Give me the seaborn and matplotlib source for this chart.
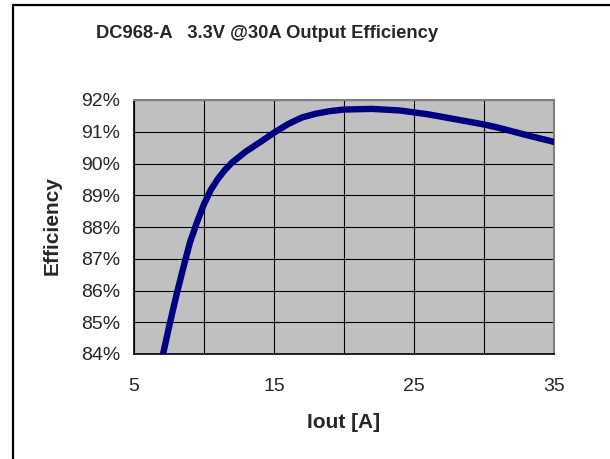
import matplotlib
matplotlib.use("Agg")
import matplotlib.pyplot as plt
from matplotlib.lines import Line2D
from matplotlib.ticker import FixedLocator, FuncFormatter
import seaborn as sns
import pandas as pd

title = "DC968-A   3.3V @30A Output Efficiency"
x_label = "Iout [A]"
y_label = "Efficiency"

iout = [7, 7.5, 8, 8.5, 9, 9.5, 10, 10.5, 11, 11.5, 12, 13, 14, 15, 16, 17,
        18, 19, 20, 22, 24, 26, 28, 30, 31, 33, 35]
efficiency = [83.85, 84.85, 85.8, 86.68, 87.52, 88.15, 88.72, 89.18, 89.52,
              89.8, 90.03, 90.38, 90.67, 90.97, 91.24, 91.45, 91.57, 91.65,
              91.7, 91.72, 91.67, 91.55, 91.39, 91.23, 91.13, 90.9, 90.68]
x_ticks = [5, 15, 25, 35]
x_grid = [10, 20, 30]
y_ticks = [84, 85, 86, 87, 88, 89, 90, 91, 92]

df = pd.DataFrame({"Iout": iout, "Eff": efficiency})

sns.set_style("white")
plt.rcParams["font.family"] = ["Liberation Sans", "DejaVu Sans"]

fig = plt.figure(figsize=(6.10, 4.59), dpi=100)
ax = fig.add_axes([134 / 610, 1 - 354 / 459, 420 / 610, 254 / 459])
ax.set_facecolor("#C0C0C0")

sns.lineplot(data=df, x="Iout", y="Eff", ax=ax, color="#000080",
             linewidth=4.6, solid_joinstyle="round", zorder=3)

ax.set_xlim(5, 35)
ax.set_ylim(84, 92)
ax.xaxis.set_major_locator(FixedLocator(x_ticks))
ax.xaxis.set_minor_locator(FixedLocator(x_grid))
ax.yaxis.set_major_locator(FixedLocator(y_ticks))
ax.yaxis.set_major_formatter(FuncFormatter(lambda v, p: f"{v:.0f}%"))

ax.grid(True, which="both", color="black", linewidth=0.8, zorder=1)
ax.set_axisbelow(True)
ax.tick_params(axis="both", which="major", direction="out", length=5,
               width=1, color="black", labelsize=14, pad=5)
ax.tick_params(axis="x", which="major", pad=12)
ax.tick_params(axis="x", which="minor", length=0)

for s in ["top", "right"]:
    ax.spines[s].set_color("#808080")
    ax.spines[s].set_linewidth(1.5)
for s in ["left", "bottom"]:
    ax.spines[s].set_color("black")
    ax.spines[s].set_linewidth(1.2)

ax.set_xlabel("")
ax.set_ylabel("")
fig.text(344 / 610, 1 - 422 / 459, x_label, ha="center", va="center",
         fontsize=15, fontweight="bold")
fig.text(52 / 610, 1 - 226 / 459, y_label, ha="center", va="center",
         rotation=90, fontsize=15, fontweight="bold")
fig.text(267 / 610, 1 - 33 / 459, title, ha="center", va="center",
         fontsize=13.2, fontweight="bold")

# outer chart border (left and top visible)
fig.add_artist(Line2D([13 / 610, 13 / 610], [0, 1 - 5 / 459],
                      transform=fig.transFigure, color="black", linewidth=1.6))
fig.add_artist(Line2D([13 / 610, 1], [1 - 5 / 459, 1 - 5 / 459],
                      transform=fig.transFigure, color="black", linewidth=1.6))

fig.savefig("out.png", dpi=100, facecolor="white")
